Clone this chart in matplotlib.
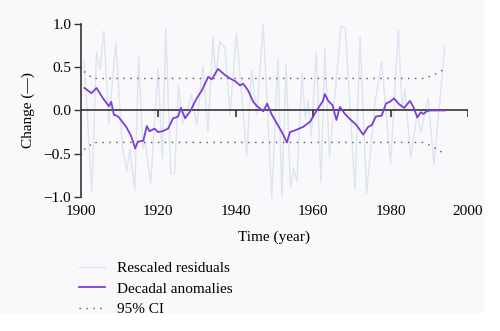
import matplotlib.pyplot as plt
from matplotlib.patches import Rectangle
import numpy as np

plt.rcParams['font.family'] = ['Liberation Serif', 'DejaVu Serif']

# rescaled residuals (turning points of the annual series)
res_year = [1900.8, 1902.8, 1904.0, 1904.9, 1905.9, 1907.2, 1909.0, 1910.7, 1911.8,
            1912.6, 1913.9, 1914.9, 1916.0, 1916.6, 1918.0, 1919.9, 1921.0, 1921.9,
            1923.2, 1924.2, 1925.2, 1926.3, 1928.6, 1929.9, 1931.5, 1932.8, 1934.1,
            1934.8, 1935.9, 1937.2, 1938.5, 1940.2, 1942.8, 1944.1, 1945.4, 1947.1,
            1949.3, 1950.9, 1951.9, 1953.0, 1954.1, 1955.0, 1955.8, 1957.1, 1958.0,
            1958.7, 1959.5, 1960.8, 1962.0, 1963.0, 1964.2, 1967.2, 1968.3, 1970.8,
            1972.1, 1973.8, 1976.0, 1977.7, 1980.0, 1982.0, 1983.0, 1983.7, 1985.2,
            1986.8, 1987.8, 1989.7, 1991.2, 1994.0]
res_val = [0.58, -0.94, 0.68, 0.47, 0.92, -0.15, 0.79, -0.42, -0.70,
           -0.45, -0.92, 0.62, -0.44, -0.35, -0.85, 0.48, -0.56, 0.95,
           -0.73, -0.73, 0.28, -0.15, 0.18, -0.17, 0.52, -0.24, 0.85,
           0.40, 0.80, 0.72, -0.05, 0.89, -0.52, 0.47, -0.05, 1.00,
           -1.02, 0.60, -1.00, 0.54, -0.90, -0.67, -0.82, 0.43, -0.10,
           0.12, -0.30, 0.68, -0.83, 0.71, -0.54, 0.98, 0.95, -0.92,
           0.85, -0.96, 0.10, 0.56, -0.61, 0.93, 0.02, 0.25, -0.55,
           -0.05, -0.25, 0.14, -0.63, 0.74]

# decadal anomalies
dec_year = [1900.9, 1902.7, 1904.0, 1905.7, 1907.2, 1907.8, 1908.5, 1909.2, 1909.8,
            1911.7, 1913.0, 1914.0, 1914.7, 1916.1, 1917.0, 1917.7, 1919.0, 1919.9,
            1921.1, 1922.5, 1923.8, 1924.6, 1925.1, 1925.8, 1926.9, 1928.2, 1929.9,
            1931.2, 1932.9, 1933.8, 1935.4, 1937.2, 1938.5, 1939.8, 1941.1, 1941.9,
            1943.2, 1944.5, 1945.5, 1947.1, 1948.1, 1949.2, 1950.6, 1951.9, 1953.2,
            1954.0, 1955.3, 1957.4, 1959.2, 1960.0, 1960.9, 1961.8, 1962.5, 1963.0,
            1963.9, 1965.0, 1966.0, 1966.9, 1968.2, 1969.5, 1971.2, 1972.9, 1974.2,
            1975.1, 1976.2, 1977.7, 1978.8, 1979.8, 1980.9, 1982.0, 1983.5, 1985.0,
            1985.9, 1986.9, 1987.8, 1988.5, 1989.3, 1990.2, 1994.0]
dec_val = [0.26, 0.20, 0.26, 0.14, 0.05, 0.10, -0.05, -0.06, -0.08,
           -0.19, -0.30, -0.44, -0.36, -0.35, -0.18, -0.24, -0.21, -0.25,
           -0.24, -0.21, -0.09, -0.08, -0.07, 0.03, -0.09, -0.01, 0.14,
           0.23, 0.39, 0.36, 0.48, 0.41, 0.37, 0.34, 0.29, 0.31,
           0.23, 0.10, 0.05, -0.01, 0.08, -0.04, -0.15, -0.25, -0.37,
           -0.25, -0.23, -0.19, -0.13, -0.07, 0.00, 0.06, 0.11, 0.19,
           0.11, 0.06, -0.11, 0.04, -0.04, -0.10, -0.17, -0.28, -0.19,
           -0.17, -0.07, -0.06, 0.08, 0.10, 0.14, 0.08, 0.03, 0.11,
           0.04, -0.08, -0.02, -0.04, -0.01, 0.00, 0.00]

# 95% confidence band
ci_year = [1900.8, 1902.0, 1903.0, 1988.5, 1990.5, 1992.0, 1993.6]
ci_upper = [0.45, 0.41, 0.37, 0.37, 0.40, 0.43, 0.47]
ci_lower = [-0.45, -0.42, -0.37, -0.37, -0.41, -0.45, -0.49]

xticks = [1900, 1920, 1940, 1960, 1980, 2000]
yticks = [-1.0, -0.5, 0.0, 0.5, 1.0]

fig = plt.figure(figsize=(5, 3.31), dpi=100)
fig.patches.append(Rectangle((0, 0.057), 0.966, 0.943, transform=fig.transFigure,
                             color='#f9f9fb', zorder=-10))
ax = fig.add_axes([0.162, 0.405, 0.774, 0.5225])
ax.patch.set_alpha(0)

l1, = ax.plot(res_year, res_val, color='#dce5f0', lw=1.0, clip_on=False,
              solid_joinstyle='round')
l2, = ax.plot(dec_year, dec_val, color='#7b3fd8', lw=1.3, zorder=4,
              solid_joinstyle='round')
l3, = ax.plot(ci_year, ci_upper, color='#555555', lw=1.0, ls=(0, (1, 4)))
ax.plot(ci_year, ci_lower, color='#555555', lw=1.0, ls=(0, (1, 4)))

# zero line acts as the time axis
ax.axhline(0, color='#333333', lw=1.2, zorder=3)
ax.vlines(xticks[1:], -0.07, 0, color='#333333', lw=1.2, zorder=3)

ax.set_xlim(1900, 2000)
ax.set_ylim(-1.0, 1.0)
ax.set_xticks(xticks)
ax.set_yticks(yticks)
ax.set_yticklabels(['\u22121.0', '\u22120.5', '0.0', '0.5', '1.0'])
ax.tick_params(axis='x', length=0, pad=6, labelsize=11)
ax.tick_params(axis='y', length=5, width=1, color='#333333', labelsize=11, pad=2)
for s in ['top', 'right', 'bottom']:
    ax.spines[s].set_visible(False)
ax.spines['left'].set_color('#333333')
ax.spines['left'].set_linewidth(1.2)

ax.set_ylabel('Change (\u2014)', fontsize=11, labelpad=6)
ax.set_xlabel('Time (year)', fontsize=11, labelpad=9)

fig.legend([l1, l2, l3], ['Rescaled residuals', 'Decadal anomalies', '95% CI'],
           loc='upper left', bbox_to_anchor=(0.158, 0.21), frameon=False,
           fontsize=11, handlelength=1.7, handletextpad=0.8, labelspacing=0.45,
           borderaxespad=0, borderpad=0)

fig.savefig('out.png', dpi=100)
